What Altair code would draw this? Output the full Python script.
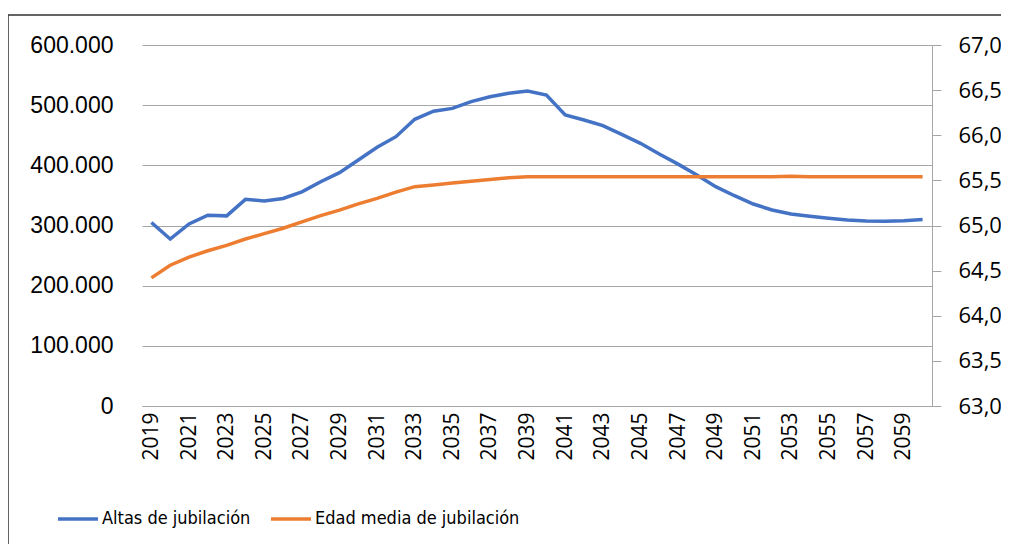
import altair as alt
import pandas as pd

years = list(range(2019, 2061))
altas = [305000, 277500, 302500, 317000, 316000, 343500, 340700, 345000, 356000, 372800,
         387800, 408800, 430000, 447600, 476500, 490000, 494700, 505800, 514000, 519700,
         523500, 516900, 483600, 475300, 466000, 451500, 436600, 418800, 402000, 384000,
         364500, 349500, 335700, 325700, 319000, 315200, 312000, 309000, 307500, 307000,
         308000, 310000]
edad = [64.42, 64.56, 64.65, 64.72, 64.78, 64.85, 64.91, 64.97, 65.04, 65.11,
        65.17, 65.24, 65.30, 65.37, 65.43, 65.45, 65.47, 65.49, 65.51, 65.53,
        65.54, 65.54, 65.54, 65.54, 65.54, 65.54, 65.54, 65.54, 65.54, 65.54,
        65.54, 65.54, 65.54, 65.54, 65.545, 65.54, 65.54, 65.54, 65.54, 65.54,
        65.54, 65.54]
series_names = ["Altas de jubilación", "Edad media de jubilación"]
series_colors = ["#4472C4", "#ED7D31"]
left_ticks = [0, 100000, 200000, 300000, 400000, 500000, 600000]
right_ticks = [63.0, 63.5, 64.0, 64.5, 65.0, 65.5, 66.0, 66.5, 67.0]
x_label_years = [y for y in years if (y - 2019) % 2 == 0]

df = pd.DataFrame({"year": years, "altas": altas, "edad": edad})

GRID = "#a6a6a6"
NUM_FONT = "Open Sans"

x_enc = alt.X(
    "year:O",
    scale=alt.Scale(type="point", padding=0.5),
    axis=alt.Axis(
        values=x_label_years, labelAngle=-90, title=None, ticks=False,
        domainColor=GRID, domainWidth=1, labelFont=NUM_FONT, labelFontSize=21,
        labelColor="#000000", labelPadding=6,
    ),
)

color_scale = alt.Scale(domain=series_names, range=series_colors)
legend = alt.Legend(
    title=None, orient="none", legendX=-86, legendY=452, direction="horizontal",
    columns=2, symbolType="stroke", symbolSize=1600, symbolStrokeWidth=3.5,
    labelFont="DejaVu Sans Condensed, Roboto", labelFontSize=18, labelColor="#000000",
    labelOffset=2, columnPadding=13, labelLimit=400,
)

blue = alt.Chart(df).mark_line(strokeWidth=3.5).encode(
    x=x_enc,
    y=alt.Y(
        "altas:Q",
        scale=alt.Scale(domain=[0, 600000], nice=False, zero=True),
        axis=alt.Axis(
            values=left_ticks, title=None, orient="left", grid=True, gridColor=GRID,
            gridWidth=1, domain=False, ticks=True, tickSize=0, labelPadding=29,
            labelFont="Liberation Sans", labelFontSize=23, labelColor="#000000",
            labelExpr="replace(format(datum.value, ','), ',', '.')",
        ),
    ),
    color=alt.Color("s:N", scale=color_scale, legend=legend),
).transform_calculate(s="'%s'" % series_names[0])

orange = alt.Chart(df).mark_line(strokeWidth=3.5).encode(
    x=x_enc,
    y=alt.Y(
        "edad:Q",
        scale=alt.Scale(domain=[63, 67], nice=False, zero=False),
        axis=alt.Axis(
            values=right_ticks, title=None, orient="right", grid=False,
            domain=True, domainColor=GRID, domainWidth=1, ticks=True,
            tickColor=GRID, tickSize=9, labelPadding=17, labelFont=NUM_FONT,
            labelFontSize=22, labelColor="#000000",
            labelExpr="replace(format(datum.value, '.1f'), '.', ',')",
        ),
    ),
    color=alt.Color("s:N", scale=color_scale, legend=legend),
).transform_calculate(s="'%s'" % series_names[1])

one = pd.DataFrame({"z": [0]})
border_left = alt.Chart(one).mark_rule(color="#303030", strokeWidth=1.5).encode(
    x=alt.value(-134), y=alt.value(-30), y2=alt.value(520)
)
border_top = alt.Chart(one).mark_rule(color="#303030", strokeWidth=1.5).encode(
    x=alt.value(-134), x2=alt.value(880), y=alt.value(-30)
)

chart = alt.layer(blue, orange, border_left, border_top).resolve_scale(
    y="independent"
).properties(
    width=790, height=361,
    padding={"left": 134, "top": 37, "right": 69, "bottom": 138},
    autosize=alt.AutoSizeParams(type="none"),
).configure_view(stroke=None)

chart.save("out.html", embed_options={"renderer": "svg", "actions": False})
